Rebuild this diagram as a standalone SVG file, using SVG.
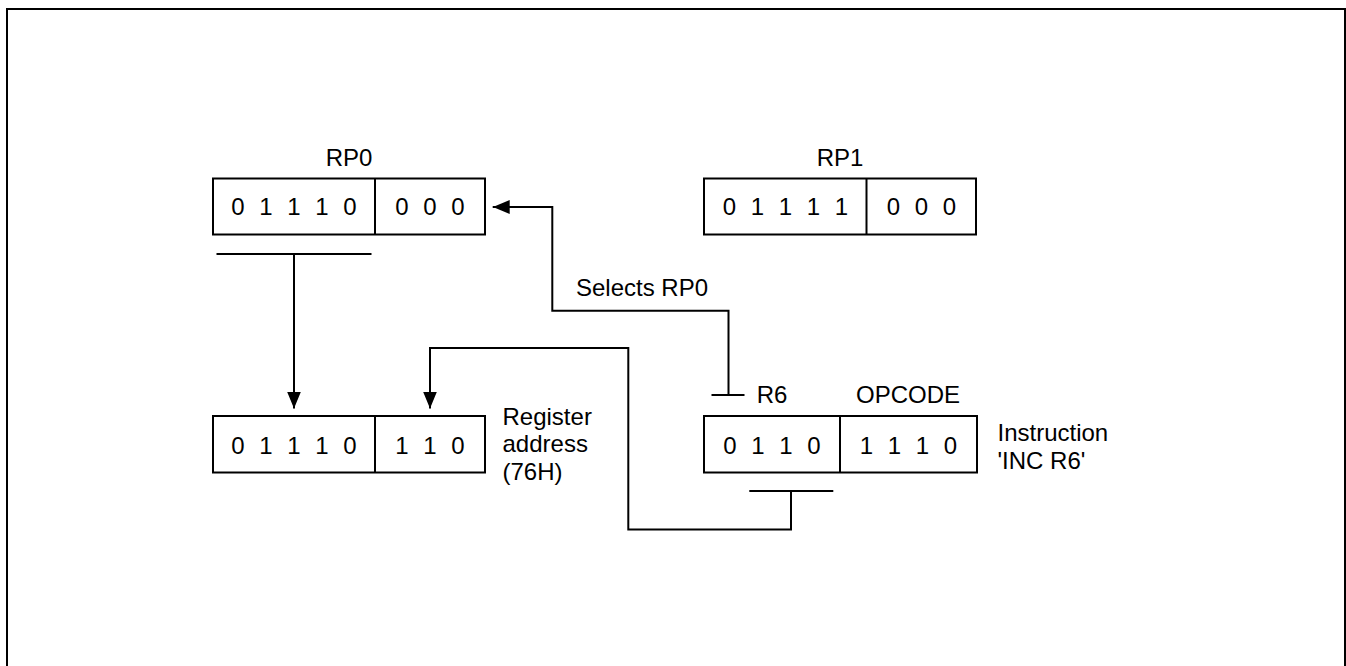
<svg xmlns="http://www.w3.org/2000/svg" width="1346" height="666" viewBox="0 0 1346 666">
<style>
text{font-family:"Liberation Sans",Arial,sans-serif;font-size:24px;fill:#000}
.bits{text-anchor:middle;word-spacing:8px}
.lbl{text-anchor:middle}
.box{fill:#fff;stroke:#000;stroke-width:2}
.ln{fill:none;stroke:#000;stroke-width:2}
</style>
<defs>
<marker id="ah" viewBox="0 0 17 14" refX="17" refY="7" markerWidth="17" markerHeight="14" markerUnits="userSpaceOnUse" orient="auto">
<path d="M0,0 L17,7 L0,14 Z" fill="#000"/>
</marker>
</defs>
<rect x="7" y="9" width="1338" height="700" fill="none" stroke="#000" stroke-width="2"/>
<g id="rp0">
<text class="lbl" x="349" y="165.5">RP0</text>
<rect class="box" x="213" y="178.5" width="272" height="56"/>
<line class="ln" x1="375" y1="178.5" x2="375" y2="234.5"/>
<text class="bits" x="294" y="215">0 1 1 1 0</text>
<text class="bits" x="430" y="215">0 0 0</text>
</g>
<g id="rp1">
<text class="lbl" x="840" y="165.5">RP1</text>
<rect class="box" x="704" y="178.5" width="272" height="56"/>
<line class="ln" x1="866.5" y1="178.5" x2="866.5" y2="234.5"/>
<text class="bits" x="785.5" y="215">0 1 1 1 1</text>
<text class="bits" x="921.5" y="215">0 0 0</text>
</g>
<g id="regaddr">
<rect class="box" x="213" y="416" width="272" height="56.5"/>
<line class="ln" x1="375" y1="416" x2="375" y2="472.5"/>
<text class="bits" x="294" y="453.5">0 1 1 1 0</text>
<text class="bits" x="430" y="453.5">1 1 0</text>
<text x="502.5" y="424.5">Register</text>
<text x="502.5" y="452.3">address</text>
<text x="502.5" y="480">(76H)</text>
</g>
<g id="instr">
<text class="lbl" x="772" y="402.5">R6</text>
<text class="lbl" x="908" y="402.5">OPCODE</text>
<rect class="box" x="704" y="416" width="273" height="56.5"/>
<line class="ln" x1="840" y1="416" x2="840" y2="472.5"/>
<text class="bits" x="772" y="453.5">0 1 1 0</text>
<text class="bits" x="908.5" y="453.5">1 1 1 0</text>
<text x="997.5" y="440.7">Instruction</text>
<text x="997.5" y="469">'INC R6'</text>
</g>
<g id="connectors">
<line class="ln" x1="216.5" y1="254" x2="371.5" y2="254"/>
<line class="ln" x1="294" y1="254" x2="294" y2="408.5" marker-end="url(#ah)"/>
<line class="ln" x1="711.5" y1="395" x2="744.5" y2="395"/>
<polyline class="ln" points="728.5,395 728.5,310.7 552.3,310.7 552.3,207 492.7,207" marker-end="url(#ah)"/>
<text x="576" y="296">Selects RP0</text>
<line class="ln" x1="749.3" y1="491" x2="833.3" y2="491"/>
<polyline class="ln" points="791,491 791,529.5 628.3,529.5 628.3,348 430,348 430,408.5" marker-end="url(#ah)"/>
</g>
</svg>
